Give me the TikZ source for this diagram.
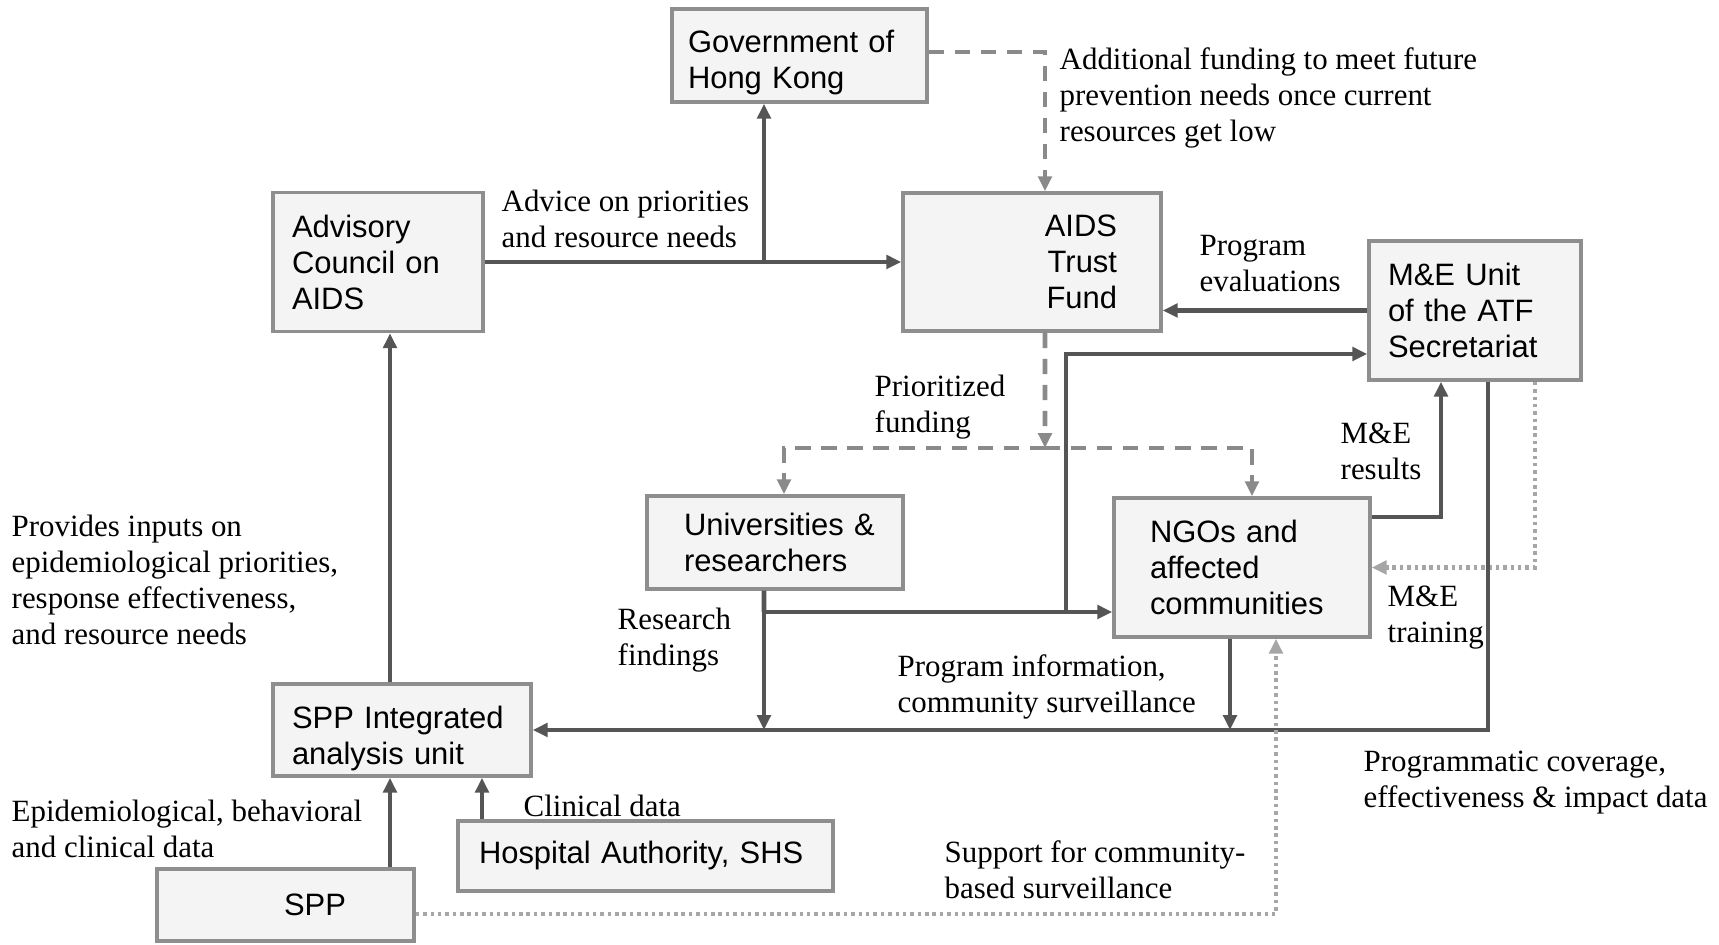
\documentclass[tikz,border=0pt]{standalone}
\usepackage{fontspec}
\setmainfont{Liberation Serif}
\setsansfont{Liberation Sans}
\usetikzlibrary{arrows.meta}
\definecolor{atfline}{HTML}{555555}
\definecolor{atfdash}{HTML}{8A8A8A}
\definecolor{atfdot}{HTML}{A6A6A6}
\definecolor{atfborder}{HTML}{8E8E8E}
\definecolor{atffill}{HTML}{F4F4F4}

\begin{document}
\begin{tikzpicture}[y=-1cm,
    font=\fontsize{8.8}{10.25}\selectfont,
    unit/.style={draw=atfborder, line width=1pt, fill=atffill, align=left,
      inner ysep=0pt, font=\sffamily\fontsize{8.8}{10.25}\selectfont},
    note/.style={anchor=west, align=left, inner sep=0pt},
    flow/.style={-{Triangle[length=4.2pt,width=3.8pt]}, line width=1.3pt, draw=atfline},
    fund/.style={-{Triangle[length=4.2pt,width=3.8pt]}, line width=1.3pt, draw=atfdash,
      dash pattern=on 4.4pt off 3pt},
    train/.style={-{Triangle[length=4.2pt,width=3.8pt]}, line width=1.3pt, draw=atfdot,
      dash pattern=on 1pt off 1.1pt}
  ]
    \useasboundingbox (0,0) rectangle (17.19,9.45);

    % boxes
    \node[unit, text width=2.23cm, inner xsep=1.6mm, minimum height=0.93cm] (gov) at (7.995,0.555) {\rule{0pt}{10.5pt}Government of\\Hong Kong};
    \node[unit, text width=1.72cm, inner xsep=1.9mm, minimum height=1.39cm] (adv) at (3.78,2.62) {Advisory\\Council on\\AIDS};
    \node[unit, text width=1.70cm, inner xsep=4.4mm, minimum height=1.38cm, align=right] (atf) at (10.32,2.62) {AIDS\\Trust\\Fund};
    \node[unit, text width=1.74cm, inner xsep=1.9mm, minimum height=1.39cm] (meu) at (14.75,3.105) {M\&E Unit\\of the ATF\\Secretariat};
    \node[unit, text width=1.82cm, inner xsep=3.7mm, minimum height=0.93cm] (uni) at (7.75,5.425) {Universities~\&\\researchers};
    \node[unit, text width=1.84cm, inner xsep=3.6mm, minimum height=1.39cm] (ngo) at (12.42,5.675) {NGOs and\\affected\\communities};
    \node[unit, text width=2.20cm, inner xsep=1.9mm, minimum height=0.92cm] (spa) at (4.02,7.30) {\rule{0pt}{11pt}SPP Integrated\\analysis unit};
    \node[unit, text width=3.33cm, inner xsep=2.1mm, minimum height=0.70cm] (hosp) at (6.455,8.56) {Hospital Authority, SHS};
    \node[unit, text width=1.21cm, inner xsep=6.8mm, minimum height=0.72cm, align=right] (spp) at (2.855,9.05) {SPP};

    % junctions
    \coordinate (advsplit) at (7.64,2.62);
    \coordinate (fundsplit) at (10.45,4.48);
    \coordinate (resjoin) at (7.64,6.12);
    \coordinate (resup) at (10.66,6.12);
    \coordinate (inlet) at ([xshift=-1.2mm]spa.south);
    \coordinate (clinlet) at ([xshift=8mm]spa.south);

    % advice and funding
    \draw[flow] (adv.east) -- (atf.west);
    \draw[flow] (advsplit) -- (advsplit |- gov.south);
    \draw[fund] ([yshift=0.35mm]gov.east) -| ([xshift=1.3mm]atf.north);
    \draw[flow] (meu.west) -- (meu.west -| atf.east);
    \draw[fund] ([xshift=1.3mm]atf.south) -- (fundsplit);
    \draw[fund] (fundsplit) -| ([xshift=0.9mm]uni.north);
    \draw[fund] (fundsplit) -| ([xshift=1mm]ngo.north);

    % research findings
    \draw[line width=1.3pt, draw=atfline] ([xshift=-1.1mm]uni.south) -- (resjoin);
    \draw[flow] (resjoin) -- (resjoin -| ngo.west);
    \draw[flow] (resjoin) -- (resjoin |- spa.east);
    \draw[flow] (resup) |- ([yshift=-4.35mm]meu.west);

    % M&E loop
    \draw[flow] ([yshift=5.05mm]ngo.east) -| ([xshift=-3.4mm]meu.south);
    \draw[train] ([xshift=6mm]meu.south) |- (ngo.east);
    \draw[flow] ([xshift=1.3mm]meu.south) |- (spa.east);
    \draw[flow] ([xshift=-1.2mm]ngo.south) -- ([xshift=-1.2mm]ngo.south |- spa.east);
    \draw[train] ([yshift=-0.9mm]spp.east) -| ([xshift=3.4mm]ngo.south);

    % surveillance data
    \draw[flow] ([xshift=-1.2mm]spa.north) -- ([xshift=-1.2mm]spa.north |- adv.south);
    \draw[flow] (inlet |- spp.north) -- (inlet);
    \draw[flow] (clinlet |- hosp.north) -- (clinlet);

    % labels
    \node[note] (advice) at (5.01,2.19) {Advice on priorities\\and resource needs};
    \node[note] (extra) at (10.59,0.975) {Additional funding to meet future\\prevention needs once current\\resources get low};
    \node[note] (evals) at (11.99,2.64) {Program\\evaluations};
    \node[note] (prio) at (8.74,4.075) {Prioritized\\funding};
    \node[note] (research) at (6.17,6.405) {Research\\findings};
    \node[note] (results) at (13.40,4.51) {M\&E\\results};
    \node[note] (training) at (13.87,6.18) {M\&E\\training};
    \node[note] (coverage) at (13.63,7.825) {Programmatic coverage,\\effectiveness \& impact data};
    \node[note] (proginfo) at (8.97,6.865) {Program information,\\community surveillance};
    \node[note] (support) at (9.44,8.70) {Support for community-\\based surveillance};
    \node[note] (inputs) at (0.11,5.80) {Provides inputs on\\epidemiological priorities,\\response effectiveness,\\and resource needs};
    \node[note] (epi) at (0.11,8.29) {Epidemiological, behavioral\\and clinical data};
    \node[note] (clin) at (5.23,8.06) {Clinical data};
\end{tikzpicture}
\end{document}
